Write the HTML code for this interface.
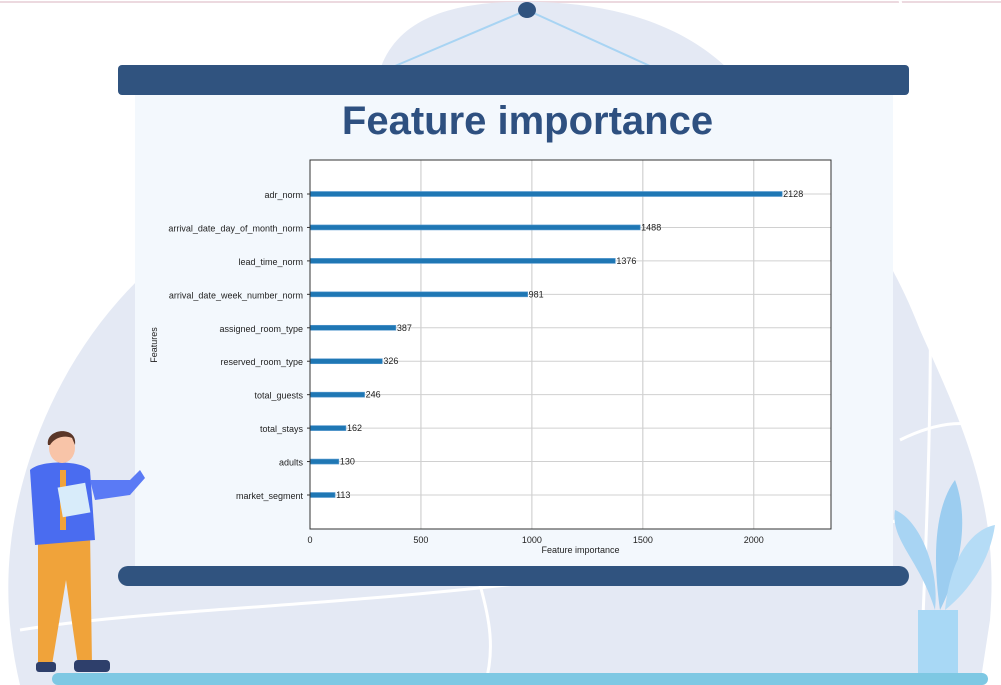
<!DOCTYPE html>
<html><head><meta charset="utf-8"><style>
html,body{margin:0;padding:0;background:#fff;}
body{width:1001px;height:685px;position:relative;overflow:hidden;font-family:"Liberation Sans",sans-serif;}
.abs{position:absolute;}
</style></head><body>
<svg class="abs" style="left:0;top:0" width="1001" height="685">
  <line x1="0" y1="2" x2="1001" y2="2" stroke="#ecd9df" stroke-width="2"/>
  <path d="M380,70 C400,10 470,0 540,2 C640,5 720,40 760,110 C800,160 870,200 920,330 C960,420 1000,500 990,620 L980,685 L20,685 C0,600 5,520 40,430 C80,330 150,250 250,200 C320,160 360,110 380,70 Z" fill="#e4e9f4"/>
  <path d="M900,0 C930,150 940,250 920,685" stroke="#fff" stroke-width="3" fill="none"/>
  <path d="M20,630 C200,600 500,610 900,520" stroke="#fff" stroke-width="3" fill="none"/>
  <path d="M480,585 C490,620 495,650 485,685" stroke="#fff" stroke-width="3" fill="none"/>
  <path d="M900,440 C940,420 970,420 1001,430" stroke="#fff" stroke-width="3" fill="none"/>
  <line x1="527" y1="10" x2="395" y2="66" stroke="#a8d4f3" stroke-width="2"/>
  <line x1="527" y1="10" x2="650" y2="66" stroke="#a8d4f3" stroke-width="2"/>
  <ellipse cx="527" cy="10" rx="9" ry="8" fill="#30537f"/>
  <rect x="135" y="92" width="758" height="478" fill="#f3f8fd"/>
  <rect x="118" y="65" width="791" height="30" rx="4" fill="#30537f"/>
  <rect x="118" y="566" width="791" height="20" rx="10" fill="#30537f"/>
  <rect x="52" y="673" width="936" height="12" rx="6" fill="#7ec8e3"/>
  <g>
    <rect x="918" y="610" width="40" height="63" fill="#a8d8f5"/>
    <path d="M935,610 C920,560 890,540 895,510 C920,520 940,570 935,610Z" fill="#a8d4f3"/>
    <path d="M940,610 C930,540 940,500 955,480 C970,520 960,570 940,610Z" fill="#9ccdf0"/>
    <path d="M945,610 C950,560 970,530 995,525 C990,560 970,590 945,610Z" fill="#b5dcf6"/>
  </g>
  <g>
    <path d="M38,530 L90,530 L92,665 L78,665 L66,580 L52,665 L38,665Z" fill="#f0a33a"/>
    <path d="M30,470 C40,460 80,460 90,470 L95,540 L35,545Z" fill="#4a6cf0"/>
    <path d="M90,480 L130,480 L140,470 L145,478 L130,495 L95,500Z" fill="#5a7af5"/>
    <rect x="60" y="470" width="6" height="60" fill="#f0a33a"/>
    <rect x="60" y="485" width="28" height="30" fill="#d8ecfa" transform="rotate(-10 74 500)"/>
    <ellipse cx="62" cy="448" rx="13" ry="15" fill="#f8c4a8"/>
    <path d="M48,445 C45,428 78,425 75,445 L72,438 C65,435 55,437 50,445Z" fill="#5a3628"/>
    <rect x="36" y="662" width="20" height="10" rx="3" fill="#2e3f6b"/>
    <rect x="74" y="660" width="36" height="12" rx="4" fill="#2e3f6b"/>
  </g>
</svg>
<div class="abs" style="left:135px;width:785px;top:99px;text-align:center;font-weight:bold;font-size:40px;color:#2e5080;">Feature importance</div>
<svg id="chart" class="abs" style="left:0;top:0" width="1001" height="685"></svg>
<script>
const features=["adr_norm","arrival_date_day_of_month_norm","lead_time_norm","arrival_date_week_number_norm","assigned_room_type","reserved_room_type","total_guests","total_stays","adults","market_segment"];
const importances=[2128,1488,1376,981,387,326,246,162,130,113];
const xTicks=[0,500,1000,1500,2000];
const NS="http://www.w3.org/2000/svg";
const svg=document.getElementById('chart');
const L=310,R=831,T=160,B=529,XMAX=2348;
const xs=v=>L+(v/XMAX)*(R-L);
const ys=i=>194+i*((495-194)/(features.length-1));
function mk(t,a,p){const e=document.createElementNS(NS,t);for(const k in a)e.setAttribute(k,a[k]);(p||svg).appendChild(e);return e;}
const bg=mk('rect',{x:L,y:T,width:R-L,height:B-T,fill:'#fff'});


xTicks.forEach(v=>{
  const g=mk('line',{x1:xs(v),x2:xs(v),y1:T,y2:B,stroke:'#c8c8c8','stroke-width':1});
  
  
  const t=mk('text',{x:xs(v),y:B+14,'font-size':9,'text-anchor':'middle',fill:'#222'});
  t.textContent=v;
  
  
});
features.forEach((f,i)=>{
  const y=ys(i);
  const g=mk('line',{x1:L,x2:R,y1:y,y2:y,stroke:'#d0d0d0','stroke-width':1});
  
  
  const b=mk('rect',{x:L,y:y-2.5,width:xs(importances[i])-L,height:5,fill:'#1f77b4',stroke:'#5a9bd0','stroke-width':0.6});
  
  
  const v=mk('text',{x:xs(importances[i])+1,y:y+3,'font-size':9,fill:'#222'});
  v.textContent=importances[i];
  
  
  const l=mk('text',{x:L-7,y:y+4,'font-size':9,'text-anchor':'end',fill:'#222'});
  l.textContent=f;
  
  
  mk('line',{x1:L-3,x2:L,y1:y,y2:y,stroke:'#333'});
});
const fr=mk('rect',{x:L,y:T,width:R-L,height:B-T,fill:'none',stroke:'#333','stroke-width':1});


const xl=mk('text',{x:(L+R)/2+10,y:553,'font-size':9,'text-anchor':'middle',fill:'#222'});
xl.textContent='Feature importance';


const yl=mk('text',{x:157,y:345,'font-size':9,'text-anchor':'middle',fill:'#222',transform:'rotate(-90 157 345)'});
yl.textContent='Features';


</script>
</body></html>
